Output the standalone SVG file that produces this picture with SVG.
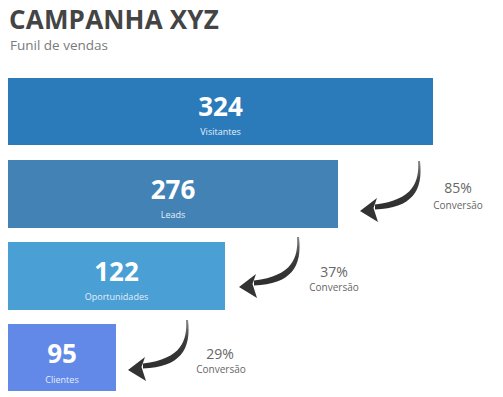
<svg xmlns="http://www.w3.org/2000/svg" xmlns:xlink="http://www.w3.org/1999/xlink" width="503" height="397" viewBox="0 0 503 397">
<defs>
<linearGradient id="ag" x1="0" y1="0" x2="0" y2="1">
<stop offset="0" stop-color="#8a8a8a"/>
<stop offset="0.4" stop-color="#3c3c3c"/>
<stop offset="1" stop-color="#2e2e2e"/>
</linearGradient>
<g id="arrow">
<path d="M58,-50 C59.5,-30 54,-11 15,-6.5 L15,-1.5 C52,-3 63.5,-20 60,-50 Z" fill="url(#ag)"/>
<path d="M0,0 L17,-13 L13.5,-3 L18,11 Z" fill="#333"/>
</g>
<style>
.title{font-family:"Open Sans","Liberation Sans",sans-serif;font-weight:700;font-size:26px;fill:#444;letter-spacing:0.2px}
.sub{font-family:"Open Sans","Liberation Sans",sans-serif;font-size:13.5px;fill:#7a7a7a}
.num{font-family:"Open Sans","Liberation Sans",sans-serif;font-weight:700;font-size:26px;fill:#fff;text-anchor:middle}
.lbl{font-family:"Open Sans","Liberation Sans",sans-serif;font-size:9px;fill:#e4eefa;text-anchor:middle}
.pct{font-family:"Open Sans","Liberation Sans",sans-serif;font-size:14px;fill:#666;text-anchor:middle}
.conv{font-family:"Open Sans","Liberation Sans",sans-serif;font-size:10px;fill:#666;text-anchor:middle}
</style>
</defs>
<rect width="503" height="397" fill="#fff"/>
<text class="title" x="9" y="29">CAMPANHA XYZ</text>
<text class="sub" x="10" y="50">Funil de vendas</text>
<g id="visitantes">
<rect x="8" y="78" width="425" height="67" fill="#2b7bba"/>
<text class="num" x="220.5" y="116">324</text>
<text class="lbl" x="220.5" y="135">Visitantes</text>
</g>
<g id="leads">
<rect x="8" y="160" width="330" height="68" fill="#4282b5"/>
<text class="num" x="173" y="199">276</text>
<text class="lbl" x="173" y="218">Leads</text>
</g>
<g id="oportunidades">
<rect x="8" y="242" width="217" height="68" fill="#4a9fd5"/>
<text class="num" x="116.5" y="281">122</text>
<text class="lbl" x="116.5" y="300">Oportunidades</text>
</g>
<g id="clientes">
<rect x="8" y="324" width="108" height="67" fill="#6389e8"/>
<text class="num" x="62" y="363">95</text>
<text class="lbl" x="62" y="383">Clientes</text>
</g>
<g id="connectors">
<use xlink:href="#arrow" transform="translate(360,211)"/>
<use xlink:href="#arrow" transform="translate(239,287)"/>
<use xlink:href="#arrow" transform="translate(128,370)"/>
</g>
<g id="labels">
<text class="pct" x="458" y="193">85%</text>
<text class="conv" x="458" y="209">Conversão</text>
<text class="pct" x="334" y="277">37%</text>
<text class="conv" x="334" y="291">Conversão</text>
<text class="pct" x="220" y="359">29%</text>
<text class="conv" x="221" y="373">Conversão</text>
</g>
</svg>
